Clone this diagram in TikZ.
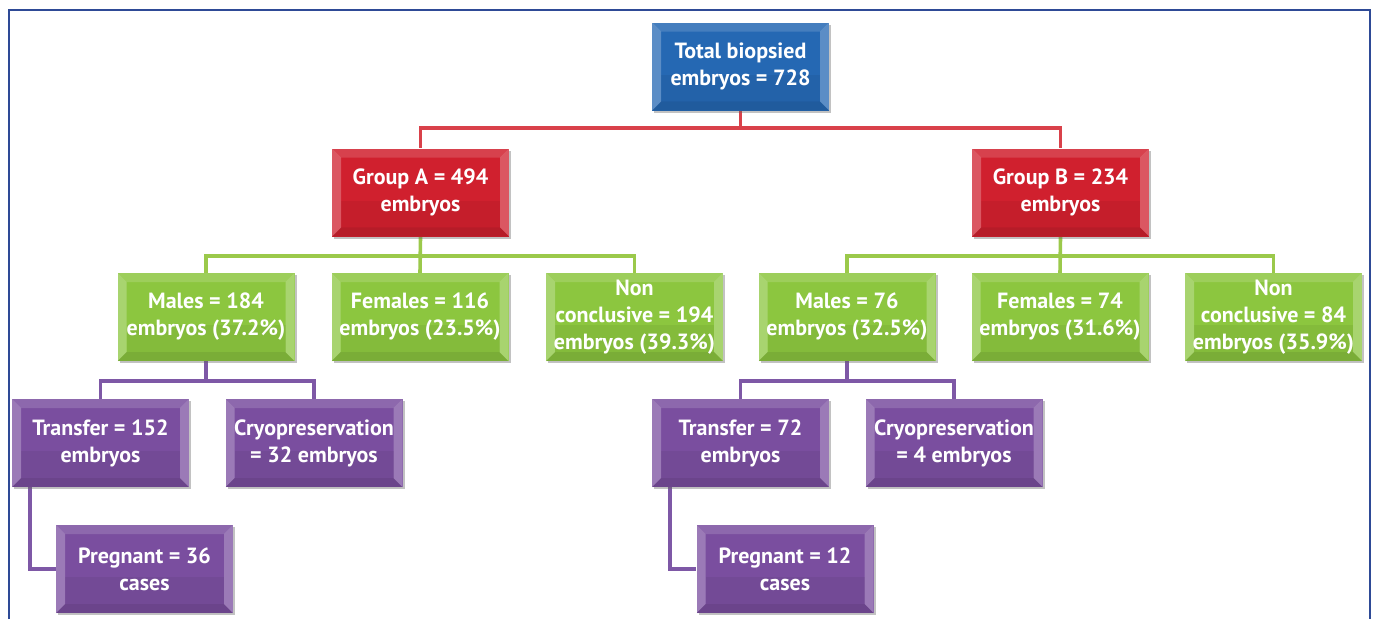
\documentclass[tikz,border=0pt]{standalone}
\usepackage{fontspec}
\setmainfont{PT Sans}
\usetikzlibrary{calc,shadows,backgrounds}
\definecolor{cblue}{HTML}{2568B3}
\definecolor{cred}{HTML}{D0202E}
\definecolor{cgreen}{HTML}{8CC63F}
\definecolor{cpurple}{HTML}{7A4E9F}
\definecolor{lred}{HTML}{D9414A}
\definecolor{lgreen}{HTML}{9BC94B}
\definecolor{lpurple}{HTML}{7E58A6}
\definecolor{frame}{HTML}{2E4A96}
\tikzset{
  box/.style={rectangle, minimum width=177pt, minimum height=88pt, inner sep=0pt,
    text=white, font=\fontsize{22}{27}\selectfont\bfseries, align=center,
    drop shadow={shadow xshift=2pt, shadow yshift=-2pt, opacity=0.4, fill=black!60},
    path picture={
      \coordinate (nw) at (path picture bounding box.north west);
      \coordinate (ne) at (path picture bounding box.north east);
      \coordinate (sw) at (path picture bounding box.south west);
      \coordinate (se) at (path picture bounding box.south east);
      \fill[white, opacity=0.25] (nw) -- ($(nw)+(9pt,-9pt)$) -- ($(sw)+(9pt,9pt)$) -- (sw) -- cycle;
      \fill[white, opacity=0.25] (ne) -- ($(ne)+(-9pt,-9pt)$) -- ($(se)+(-9pt,9pt)$) -- (se) -- cycle;
      \fill[white, opacity=0.15] (nw) -- ($(nw)+(9pt,-9pt)$) -- ($(ne)+(-9pt,-9pt)$) -- (ne) -- cycle;
      \fill[black, opacity=0.12] (sw) -- ($(sw)+(9pt,9pt)$) -- ($(se)+(-9pt,9pt)$) -- (se) -- cycle;
      \fill[black, opacity=0.05] ($(sw)+(9pt,9pt)$) rectangle ($(se)+(-9pt,36pt)$);
    }},
  bluebox/.style={box, fill=cblue},
  redbox/.style={box, fill=cred},
  greenbox/.style={box, fill=cgreen},
  purplebox/.style={box, fill=cpurple},
  conn/.style={line width=3.6pt},
  redconn/.style={conn, draw=lred},
  greenconn/.style={conn, draw=lgreen},
  purpleconn/.style={conn, draw=lpurple},
}
\begin{document}
\begin{tikzpicture}[x=1pt,y=-1pt]
\useasboundingbox (0,0) rectangle (1378,619);
\draw[frame, line width=1.8pt] (9,619) -- (9,10) -- (1370,10) -- (1370,619);

\node[bluebox] (T) at (740.5,66.5) {Total biopsied\\embryos = 728};
\node[redbox] (GA) at (420.5,192.5) {Group A = 494\\embryos};
\node[redbox] (GB) at (1060.5,192.5) {Group B = 234\\embryos};
\node[greenbox] (MA) at (206,317) {Males = 184\\embryos (37.2\%)};
\node[greenbox] (FA) at (420,317) {Females = 116\\embryos (23.5\%)};
\node[greenbox] (NA) at (634.5,317) {Non\\conclusive = 194\\embryos (39.3\%)};
\node[greenbox] (MB) at (847,317) {Males = 76\\embryos (32.5\%)};
\node[greenbox] (FB) at (1060,317) {Females = 74\\embryos (31.6\%)};
\node[greenbox] (NB) at (1273.5,317) {Non\\conclusive = 84\\embryos (35.9\%)};
\node[purplebox] (TA) at (100.5,443) {Transfer = 152\\embryos};
\node[purplebox] (CA) at (314,443) {Cryopreservation\\= 32 embryos};
\node[purplebox] (PA) at (144.5,569) {Pregnant = 36\\cases};
\node[purplebox] (TB) at (740.5,443) {Transfer = 72\\embryos};
\node[purplebox] (CB) at (954,443) {Cryopreservation\\= 4 embryos};
\node[purplebox] (PB) at (785,569) {Pregnant = 12\\cases};

\begin{scope}[on background layer]
\draw[redconn] (T.south) -- ++(0,17) -| (GA.north);
\draw[redconn] (T.south) -- ++(0,17) -| (GB.north);
\draw[greenconn] (GA.south) -- ++(0,19) -| (MA.north);
\draw[greenconn] (GA.south) -- (FA.north);
\draw[greenconn] (GA.south) -- ++(0,19) -| (NA.north);
\draw[greenconn] (GB.south) -- ++(0,19) -| (MB.north);
\draw[greenconn] (GB.south) -- (FB.north);
\draw[greenconn] (GB.south) -- ++(0,19) -| (NB.north);
\draw[purpleconn] (MA.south) -- ++(0,20) -| (TA.north);
\draw[purpleconn] (MA.south) -- ++(0,20) -| (CA.north);
\draw[purpleconn] (MB.south) -- ++(0,20) -| (TB.north);
\draw[purpleconn] (MB.south) -- ++(0,20) -| (CB.north);
\draw[purpleconn] ($(TA.south west)+(18,0)$) |- (PA.west);
\draw[purpleconn] ($(TB.south west)+(18,0)$) |- (PB.west);
\end{scope}
\end{tikzpicture}
\end{document}
